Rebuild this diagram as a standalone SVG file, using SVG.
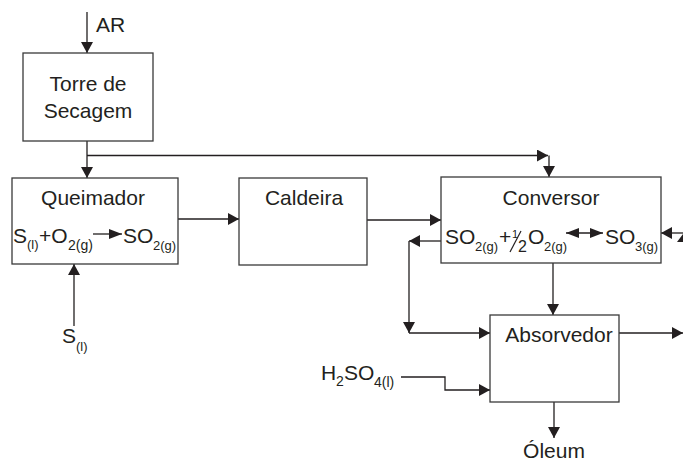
<svg xmlns="http://www.w3.org/2000/svg" width="683" height="463" viewBox="0 0 683 463">
<style>
.box{fill:#fff;stroke:#3a3a3a;stroke-width:1.3}
.ln{fill:none;stroke:#231f20;stroke-width:1.3}
.t{font-family:"Liberation Sans",Arial,sans-serif;font-size:21px;fill:#231f20}
.s{font-size:14px}
.s2{font-size:13px}
.m{text-anchor:middle}
</style>
<defs>
<marker id="ah" viewBox="0 0 11 12" refX="11" refY="6" markerWidth="11" markerHeight="12" markerUnits="userSpaceOnUse" orient="auto-start-reverse">
<path d="M0,0 L11,6 L0,12 z" fill="#231f20"/>
</marker>
<marker id="eh" viewBox="0 0 13 10" refX="13" refY="5" markerWidth="13" markerHeight="10" markerUnits="userSpaceOnUse" orient="auto-start-reverse">
<path d="M0,0 L13,5 L0,10 z" fill="#231f20"/>
</marker>
</defs>
<rect width="683" height="463" fill="#fff"/>
<g id="connectors">
<path class="ln" d="M87,12 V53" marker-end="url(#ah)"/>
<path class="ln" d="M87,141 V178" marker-end="url(#ah)"/>
<path class="ln" d="M87,155.5 H548" marker-end="url(#ah)"/>
<path class="ln" d="M549,155.5 V177" marker-end="url(#ah)"/>
<path class="ln" d="M74,326 V264" marker-end="url(#ah)"/>
<path class="ln" d="M178,219 H239" marker-end="url(#ah)"/>
<path class="ln" d="M367,220 H441" marker-end="url(#ah)"/>
<path class="ln" d="M441,241 H409" marker-end="url(#ah)"/>
<path class="ln" d="M409,241 V333" marker-end="url(#ah)"/>
<path class="ln" d="M409,333 H490" marker-end="url(#ah)"/>
<path class="ln" d="M683,233 H661" marker-end="url(#ah)"/>
<polygon points="677,242 683,234 683,242" fill="#231f20"/>
<path class="ln" d="M553,263 V315" marker-end="url(#ah)"/>
<path class="ln" d="M401,377 H445 V390 H490" marker-end="url(#ah)"/>
<path class="ln" d="M619,333 H683" marker-end="url(#ah)"/>
<path class="ln" d="M554,402 V438" marker-end="url(#ah)"/>
</g>
<g id="ar"><text class="t" x="96" y="32">AR</text></g>
<g id="torre">
<rect class="box" x="23" y="53" width="130" height="88"/>
<text class="t m" x="88" y="91">Torre de</text>
<text class="t m" x="88" y="118">Secagem</text>
</g>
<g id="queimador">
<rect class="box" x="12" y="178" width="166" height="86"/>
<text class="t m" x="93" y="205">Queimador</text>
<text class="t" x="13" y="243">S</text>
<text class="t s2" x="27" y="249">(l)</text>
<text class="t" x="39" y="243">+O</text>
<text class="t s" x="68" y="250">2(g)</text>
<path class="ln" d="M93,234 H122" marker-end="url(#eh)"/>
<text class="t" x="123" y="243">SO</text>
<text class="t s2" x="153" y="250">2(g)</text>
</g>
<g id="caldeira">
<rect class="box" x="239" y="178" width="128" height="87"/>
<text class="t m" x="304" y="205">Caldeira</text>
</g>
<g id="conversor">
<rect class="box" x="441" y="177" width="220" height="86"/>
<text class="t m" x="551" y="205">Conversor</text>
<text class="t" x="445" y="244">SO</text>
<text class="t s2" x="475" y="251">2(g)</text>
<text class="t" x="499" y="244">+</text>
<text class="t" style="font-size:11px" x="512" y="238">1</text>
<line x1="510" y1="252" x2="521" y2="231" stroke="#231f20" stroke-width="1.2"/>
<text class="t" style="font-size:16px" x="518" y="252">2</text>
<text class="t" x="528" y="244">O</text>
<text class="t s2" x="544" y="251">2(g)</text>
<path class="ln" d="M566,233 H603" marker-start="url(#eh)" marker-end="url(#eh)"/>
<text class="t" x="605" y="244">SO</text>
<text class="t s2" x="635" y="251">3(g)</text>
</g>
<g id="absorvedor">
<rect class="box" x="490" y="315" width="129" height="87"/>
<text class="t m" x="559" y="342">Absorvedor</text>
</g>
<g id="s-input">
<text class="t" x="62" y="343">S</text>
<text class="t s2" x="76" y="351">(l)</text>
</g>
<g id="h2so4">
<text class="t" x="321" y="380">H</text>
<text class="t s" x="336" y="386">2</text>
<text class="t" x="344" y="380">SO</text>
<text class="t s" x="374" y="387">4(l)</text>
</g>
<g id="oleum"><text class="t m" x="554" y="458">Óleum</text></g>
</svg>
